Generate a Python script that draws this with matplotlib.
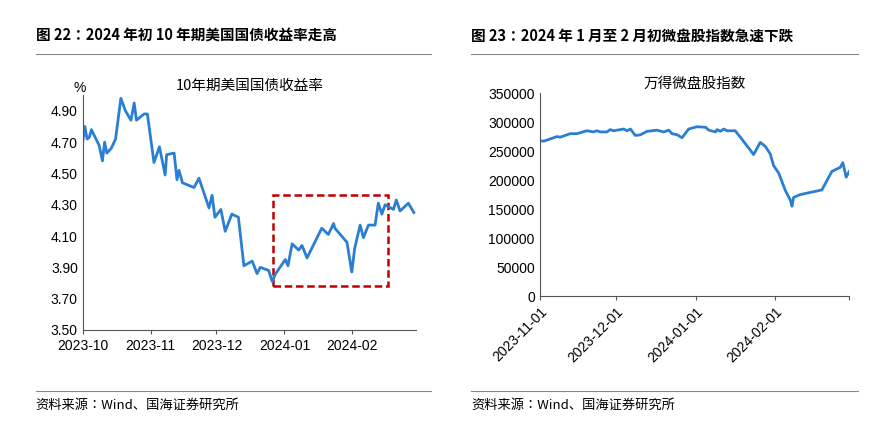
import matplotlib
matplotlib.use("Agg")
import matplotlib.pyplot as plt
import matplotlib.dates as mdates
import numpy as np
import pandas as pd
from matplotlib.patches import Rectangle
from matplotlib.lines import Line2D

CJK = ["Noto Sans CJK SC", "Noto Sans CJK JP", "Noto Sans CJK TC", "Noto Sans CJK KR"]
plt.rcParams["font.family"] = ["Liberation Sans"] + CJK

# left: 10y UST yield, (day offset from 2023-10-01, %)
ust_days = [0, 1, 2, 3, 4, 5, 7.5, 9, 10, 11, 13, 15, 17.4, 19.5, 22, 23.5, 24.5, 28, 29.5,
            32.5, 35, 37.6, 38.3, 41.7, 43, 43.9, 45.5, 50.8, 53, 57.6, 59, 60.3, 63, 65,
            68, 71, 73.5, 77.3, 79.5, 81, 84.8, 86.4, 88, 92.4, 93.6, 95.5, 98.5, 100,
            102.3, 109, 112, 114.4, 115, 120.5, 122.7, 124, 126.5, 128, 130.3, 133.3,
            134.8, 136.4, 137.9, 141.7, 143, 144.7, 148.5, 151]
ust_vals = [4.70, 4.80, 4.72, 4.73, 4.78, 4.75, 4.68, 4.58, 4.70, 4.63, 4.66, 4.72, 4.98,
            4.90, 4.84, 4.95, 4.84, 4.88, 4.88, 4.57, 4.67, 4.49, 4.62, 4.63, 4.46, 4.52,
            4.44, 4.41, 4.47, 4.28, 4.36, 4.22, 4.27, 4.13, 4.24, 4.22, 3.91, 3.94, 3.86,
            3.90, 3.88, 3.81, 3.86, 3.95, 3.91, 4.05, 4.01, 4.04, 3.96, 4.15, 4.11, 4.18,
            4.15, 4.06, 3.87, 4.02, 4.17, 4.09, 4.17, 4.17, 4.31, 4.24, 4.30, 4.27, 4.33,
            4.26, 4.31, 4.25]
ust_ticks = ["2023-10-01", "2023-11-01", "2023-12-01", "2024-01-01", "2024-02-01"]
ust_ticklabels = ["2023-10", "2023-11", "2023-12", "2024-01", "2024-02"]

# right: Wind micro-cap index, (day offset from 2023-11-01, value)
mc_days = [0, 1.6, 6.8, 8.1, 12, 14.6, 18.5, 21.1, 22.4, 23.7, 26.3, 27.6, 28.9, 32.9,
           34.2, 35.5, 37.4, 39.4, 42, 45.9, 48.5, 50.5, 51.8, 53.8, 55.7, 58.3, 61.6,
           64.9, 66.2, 68.8, 69.4, 70.7, 72, 73.3, 76.5, 79.2, 83.7, 86.3, 88.3, 90.2,
           91.5, 93.5, 96.1, 98.1, 98.7, 99.3, 101.9, 110.4, 114.3, 117.6, 118.6, 119.9, 121.1]
mc_vals = [268000, 267000, 275000, 274000, 280000, 280000, 285000, 283000, 285000, 283000,
           283000, 287000, 285000, 288000, 285000, 288000, 277000, 278000, 284000, 286000,
           283000, 286000, 280000, 278000, 273000, 288000, 292000, 291000, 286000, 283000,
           287000, 284000, 288000, 285000, 285000, 270000, 244000, 265000, 258000, 245000,
           225000, 212000, 182000, 165000, 155000, 170000, 175000, 183000, 215000, 222000,
           230000, 205000, 215000]
mc_ticks = ["2023-11-01", "2023-12-01", "2024-01-01", "2024-02-01"]

blue = "#2a7fd4"
ust_x = pd.Timestamp("2023-10-01") + pd.to_timedelta(ust_days, unit="D")
mc_x = pd.Timestamp("2023-11-01") + pd.to_timedelta(mc_days, unit="D")

fig = plt.figure(figsize=(8.89, 4.23), dpi=100)

# titles, rules and sources
fig.text(0.040, 0.915, "图 22：2024 年初 10 年期美国国债收益率走高", fontsize=10.5,
         fontweight="bold", family=CJK, va="center")
fig.text(0.530, 0.915, "图 23：2024 年 1 月至 2 月初微盘股指数急速下跌", fontsize=10.5,
         fontweight="bold", family=CJK, va="center")
for x0, x1 in [(0.040, 0.485), (0.530, 0.965)]:
    fig.add_artist(Line2D([x0, x1], [0.872, 0.872], color="#888888", lw=0.8))
    fig.add_artist(Line2D([x0, x1], [0.075, 0.075], color="#888888", lw=0.8))
fig.text(0.040, 0.042, "资料来源：Wind、国海证券研究所", fontsize=9.5, family=CJK, va="center")
fig.text(0.530, 0.042, "资料来源：Wind、国海证券研究所", fontsize=9.5, family=CJK, va="center")

# left panel
ax1 = fig.add_axes([0.093, 0.220, 0.375, 0.555])
ax1.plot(ust_x, ust_vals, color=blue, lw=2)
ax1.set_xlim(pd.Timestamp("2023-10-01"), pd.Timestamp("2024-03-01"))
ax1.set_ylim(3.5, 5.0)
ax1.set_yticks(np.arange(3.5, 5.0, 0.2))
ax1.yaxis.set_major_formatter(matplotlib.ticker.FormatStrFormatter("%.2f"))
ax1.set_xticks(pd.to_datetime(ust_ticks))
ax1.set_xticklabels(ust_ticklabels)
ax1.text(-0.01, 1.0, "%", transform=ax1.transAxes, ha="center", va="bottom", fontsize=10)
ax1.set_title("10年期美国国债收益率", fontsize=10.5, family=CJK, pad=4)
box_x0 = mdates.date2num(pd.Timestamp("2023-12-27"))
box_x1 = mdates.date2num(pd.Timestamp("2024-02-17"))
ax1.add_patch(Rectangle((box_x0, 3.78), box_x1 - box_x0, 0.58, fill=False,
                        edgecolor="#c00000", lw=1.8, ls=(0, (3, 1.5))))

# right panel
ax2 = fig.add_axes([0.607, 0.300, 0.348, 0.480])
ax2.plot(mc_x, mc_vals, color=blue, lw=2)
ax2.set_xlim(pd.Timestamp("2023-11-01"), pd.Timestamp("2024-03-01"))
ax2.set_ylim(0, 350000)
ax2.set_yticks(np.arange(0, 350001, 50000))
ax2.set_xticks(list(pd.to_datetime(mc_ticks)) + [pd.Timestamp("2024-03-01")])
ax2.set_xticklabels(mc_ticks + [""], rotation=45, ha="right", rotation_mode="anchor")
ax2.set_title("万得微盘股指数", fontsize=10.5, family=CJK, pad=4)

for ax in (ax1, ax2):
    for s in ("top", "right"):
        ax.spines[s].set_visible(False)
    ax.spines["left"].set_color("#555555")
    ax.spines["bottom"].set_color("#555555")
    ax.tick_params(labelsize=10, length=3, color="#555555")
    ax.tick_params(axis="y", length=0)

fig.savefig("out.png", dpi=100)
